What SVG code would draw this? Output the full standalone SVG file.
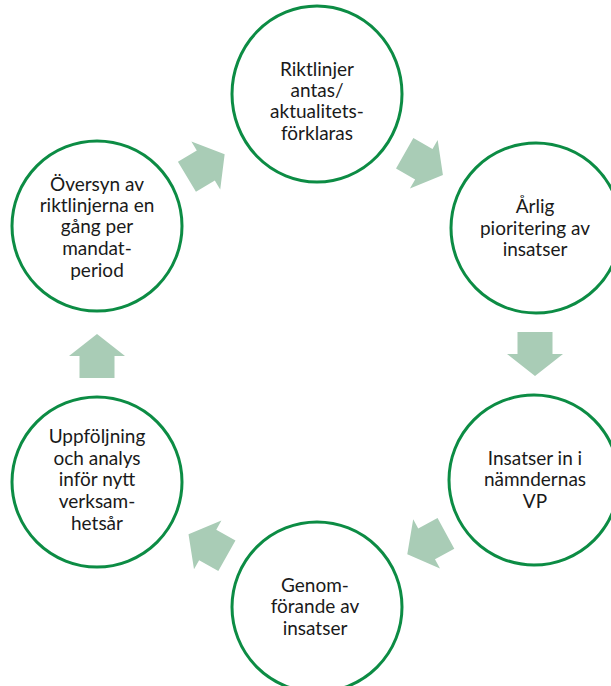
<svg xmlns="http://www.w3.org/2000/svg" width="611" height="686" viewBox="0 0 611 686">
<style>
.c{fill:#fff;stroke:#0c8c44;stroke-width:3}
.t{font-family:Lato,"Open Sans","Liberation Sans",sans-serif;font-size:19px;fill:#1a1a1a;text-anchor:middle}
.a{fill:#a9ccb6}
</style>
<defs>
<path id="arr" d="M-22,-17.5 L0,-17.5 L0,-28 L22,0 L0,28 L0,17.5 L-22,17.5 Z"/>
</defs>
<rect width="611" height="686" fill="#fff"/>
<g id="connectors">
<use href="#arr" class="a" transform="translate(205.8,165.5) rotate(-31)"/>
<use href="#arr" class="a" transform="translate(423.8,164.2) rotate(29.7)"/>
<use href="#arr" class="a" transform="translate(535,354) rotate(90)"/>
<use href="#arr" class="a" transform="translate(426.6,543.8) rotate(151.4)"/>
<use href="#arr" class="a" transform="translate(207.7,544.9) rotate(209.3)"/>
<use href="#arr" class="a" transform="translate(97,356) rotate(-90)"/>
</g>
<g id="n1">
<ellipse class="c" cx="317" cy="94" rx="85" ry="88"/>
<text class="t" x="317"><tspan x="317" y="76">Riktlinjer</tspan><tspan x="317" y="97">antas/</tspan><tspan x="317" y="118">aktualitets-</tspan><tspan x="317" y="140">förklaras</tspan></text>
</g>
<g id="n2">
<circle class="c" cx="536" cy="228" r="85"/>
<text class="t"><tspan x="535" y="213">Årlig</tspan><tspan x="535" y="235">pioritering av</tspan><tspan x="535" y="256">insatser</tspan></text>
</g>
<g id="n3">
<circle class="c" cx="534" cy="480" r="85"/>
<text class="t"><tspan x="535" y="465">Insatser in i</tspan><tspan x="535" y="486">nämndernas</tspan><tspan x="535" y="508">VP</tspan></text>
</g>
<g id="n4">
<circle class="c" cx="317" cy="607" r="85"/>
<text class="t"><tspan x="315" y="592">Genom-</tspan><tspan x="315" y="613">förande av</tspan><tspan x="315" y="635">insatser</tspan></text>
</g>
<g id="n5">
<circle class="c" cx="97" cy="482" r="85"/>
<text class="t"><tspan x="97" y="443">Uppföljning</tspan><tspan x="97" y="465">och analys</tspan><tspan x="97" y="486">inför nytt</tspan><tspan x="97" y="508">verksam-</tspan><tspan x="97" y="530">hetsår</tspan></text>
</g>
<g id="n6">
<circle class="c" cx="97" cy="226" r="85"/>
<text class="t"><tspan x="97" y="191">Översyn av</tspan><tspan x="97" y="212">riktlinjerna en</tspan><tspan x="97" y="233">gång per</tspan><tspan x="97" y="255">mandat-</tspan><tspan x="97" y="277">period</tspan></text>
</g>
</svg>
